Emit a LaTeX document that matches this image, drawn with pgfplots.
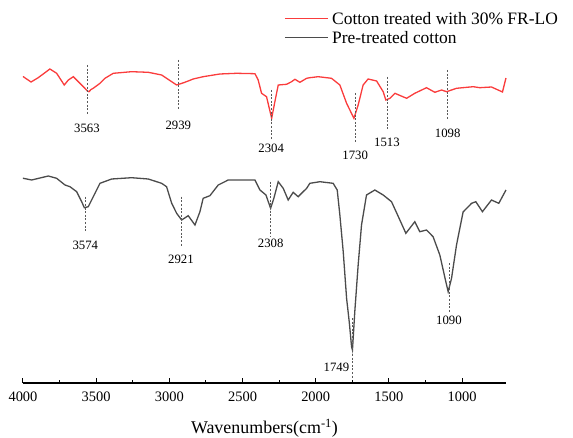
\documentclass[border=0pt]{standalone}
\usepackage{pgfplots}
\pgfplotsset{compat=1.18}
\usepackage{fontspec}
\setmainfont{Liberation Serif}
\definecolor{redc}{RGB}{250,60,60}
\definecolor{grayc}{RGB}{75,75,75}
\definecolor{dashc}{RGB}{90,90,90}
\tikzset{
 dashline/.style={dashc, line width=0.6bp, dash pattern=on 2bp off 1.6bp},
 lab/.style={font=\fontsize{12.8}{14}\selectfont},
 legtext/.style={font=\fontsize{17.5}{20}\selectfont, anchor=west, inner sep=0pt},
}
\begin{document}
\begin{tikzpicture}
\begin{axis}[
 x=0.146364bp, y=1bp,
 xmin=700, xmax=4000, ymin=54, ymax=380,
 x dir=reverse,
 axis x line=bottom, axis y line=none,
 axis line style={-, line width=1.1bp, black},
 xtick={1000,1500,...,4000},
 minor x tick num=1,
 tick align=inside,
 major tick length=5bp, minor tick length=3bp,
 tick style={line width=1bp, black},
 xticklabel style={font=\fontsize{14.5}{16}\selectfont, yshift=-5.5bp},
 /pgf/number format/1000 sep={},
 /pgf/number format/assume math mode=true,
 xlabel={Wavenumbers(cm\textsuperscript{-1})},
 xlabel style={font=\fontsize{18}{21}\selectfont, at={(axis description cs:0.5,0)}, anchor=center, yshift=-45bp},
 clip=false,
]
% Cotton treated with 30% FR-LO
\addplot[redc, line width=1.3bp] coordinates {
(4000,360.3) (3998,360.3) (3945,355) (3896,359.3) (3816,368) (3770,363.7) (3718,352) (3690,357) (3656,360.3)
(3611,353.7) (3577,348.7) (3560,346) (3549,345.3) (3535,347.5) (3520,348.7) (3474,353.7) (3440,358.7) (3383,363.7)
(3258,365.3) (3144,364.7) (3053,362) (3019,358.7) (2950,352) (2894,354.7) (2837,358) (2769,360.3)
(2655,363) (2540,363.7) (2415,363.3) (2393,357) (2370,343.7) (2336,340.3) (2301,318.7) (2279,335.3)
(2256,352) (2199,352.7) (2165,355.3) (2142,357.7) (2108,354.7) (2062,358.7) (2040,359.3) (1983,360.3)
(1892,358.7) (1835,352) (1789,333.7) (1739,318.7) (1710,332) (1676,352) (1642,358) (1584,356)
(1539,345.3) (1521,337) (1493,338.7) (1459,343.7) (1379,338.7) (1323,343.7) (1243,349.3) (1186,344.7)
(1140,347) (1106,345.3) (1038,348.7) (924,350.3) (879,349.3) (799,350) (724,345) (700,359)
};
% Pre-treated cotton
\addplot[grayc, line width=1.3bp] coordinates {
(4000,258.7) (3998,258.7) (3941,257) (3827,261) (3770,258.7) (3713,252) (3679,250.3) (3633,245.3)
(3599,235.3) (3581,229.3) (3554,230.3) (3508,243.7) (3474,253.7) (3394,258) (3258,259.3) (3144,258)
(3053,253.7) (3019,250.3) (2984,233.7) (2950,223.7) (2916,217) (2871,221.3) (2825,212) (2791,225.3)
(2769,238.7) (2723,241.3) (2666,252) (2598,257) (2415,257) (2381,247) (2340,242) (2308,228.7)
(2286,238.7) (2256,255.3) (2222,248.7) (2188,237) (2154,244.7) (2120,240.3) (2062,248.7) (2040,253.7)
(1971,255.3) (1881,253.7) (1853,247) (1835,222) (1812,185.3) (1789,138.7) (1771,115.3) (1755,90.3)
(1749,87) (1744,98.7) (1733,125.3) (1710,172) (1687,212) (1653,242) (1596,247) (1539,242)
(1482,235.3) (1425,217) (1384,203.7) (1323,215.3) (1289,205.3) (1243,207) (1198,200.3) (1152,182)
(1111,155.3) (1095,145.3) (1072,158.7) (1038,192) (993,225) (935,233.7) (906,235.3) (861,225.3)
(799,237) (749,233.7) (700,247)
};
% legend
\addplot[redc, line width=1.3bp, forget plot] coordinates {(2210,418.7) (1916,418.7)};
\addplot[grayc, line width=1.3bp, forget plot] coordinates {(2210,399.3) (1916,399.3)};
\node[legtext] at (axis cs:1889,418.7) {Cotton treated with 30\% FR-LO};
\node[legtext] at (axis cs:1889,399.3) {Pre-treated cotton};
% red peak markers
\addplot[dashline, forget plot] coordinates {(3563,372) (3563,322)};
\addplot[dashline, forget plot] coordinates {(2939,377) (2939,327)};
\addplot[dashline, forget plot] coordinates {(2304,347) (2304,297)};
\addplot[dashline, forget plot] coordinates {(1730,344) (1730,294)};
\addplot[dashline, forget plot] coordinates {(1513,360) (1513,307)};
\addplot[dashline, forget plot] coordinates {(1098,367) (1098,317)};
% gray peak markers
\addplot[dashline, forget plot] coordinates {(3574,240.3) (3574,205.3)};
\addplot[dashline, forget plot] coordinates {(2921,240.3) (2921,190.3)};
\addplot[dashline, forget plot] coordinates {(2308,255.3) (2308,200.3)};
\addplot[dashline, forget plot] coordinates {(1749,119) (1749,58)};
\addplot[dashline, forget plot] coordinates {(1090,174) (1090,125.3)};
\node[lab] at (axis cs:3563,309) {3563};
\node[lab] at (axis cs:2939,312) {2939};
\node[lab] at (axis cs:2304,289) {2304};
\node[lab] at (axis cs:1730,282) {1730};
\node[lab] at (axis cs:1513,295) {1513};
\node[lab] at (axis cs:1098,304) {1098};
\node[lab] at (axis cs:3574,192) {3574};
\node[lab] at (axis cs:2921,178) {2921};
\node[lab] at (axis cs:2308,193.7) {2308};
\node[lab, anchor=east, inner sep=1bp] at (axis cs:1763,70) {1749};
\node[lab] at (axis cs:1090,117) {1090};
\coordinate (bbsw) at (axis cs:4157.1,0);
\coordinate (bbne) at (axis cs:242.1,437);
\end{axis}
\pgfresetboundingbox
\path[use as bounding box] (bbsw) rectangle (bbne);
\end{tikzpicture}
\end{document}
